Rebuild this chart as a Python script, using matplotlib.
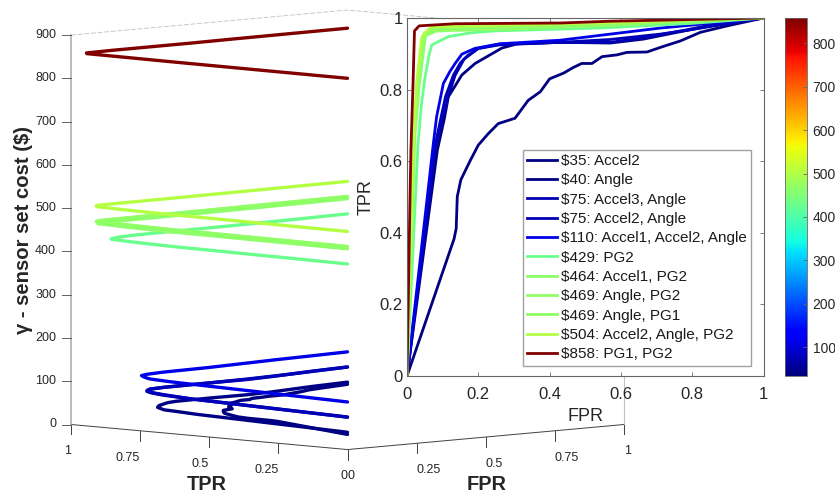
import numpy as np
import matplotlib
matplotlib.use("Agg")
import matplotlib.pyplot as plt
from matplotlib.cm import ScalarMappable
from matplotlib.colors import Normalize
from mpl_toolkits.mplot3d import proj3d

plt.rcParams['font.family'] = ['Liberation Sans', 'DejaVu Sans']

# ---------- data ----------
costs = [35, 40, 75, 75, 110, 429, 464, 469, 469, 504, 858]
labels = ["$35: Accel2", "$40: Angle", "$75: Accel3, Angle", "$75: Accel2, Angle",
          "$110: Accel1, Accel2, Angle", "$429: PG2", "$464: Accel1, PG2",
          "$469: Angle, PG2", "$469: Angle, PG1", "$504: Accel2, Angle, PG2",
          "$858: PG1, PG2"]

fpr_35 = [0, .132, .138, .141, .151, .177, .20, .228, .256, .303, .34, .374, .40, .439, .467, .49, .519, .547, .589, .617, .673, .711, .767, .823, .898, 1]
tpr_35 = [0, .383, .412, .501, .548, .601, .645, .677, .705, .72, .77, .794, .83, .846, .862, .873, .873, .892, .897, .904, .905, .918, .936, .96, .978, 1]
fpr_40 = [0, .085, .105, .116, .154, .191, .266, .31, .43, .57, .663, .758, .851, 1]
tpr_40 = [0, .63, .72, .78, .841, .873, .916, .928, .932, .93, .941, .96, .978, 1]
fpr_75a = [0, .08, .095, .108, .13, .15, .17, .20, .26, .43, .57, .711, .80, .90, 1]
tpr_75a = [0, .65, .72, .78, .84, .875, .895, .915, .925, .932, .94, .955, .968, .984, 1]
fpr_75b = [0, .08, .10, .115, .135, .16, .20, .26, .43, .57, .663, .758, .851, 1]
tpr_75b = [0, .64, .72, .78, .84, .885, .915, .927, .932, .932, .945, .962, .98, 1]
fpr_110 = [0, .074, .083, .102, .12, .135, .154, .19, .26, .43, .57, .711, .851, 1]
tpr_110 = [0, .65, .724, .817, .85, .873, .899, .915, .928, .938, .955, .972, .985, 1]
fpr_429 = [0, .031, .041, .05, .062, .07, .116, .182, .247, .542, .80, 1]
tpr_429 = [0, .651, .763, .83, .898, .925, .948, .959, .964, .972, .985, 1]
fpr_464 = [0, .02, .032, .05, .075, .116, .26, .54, 1]
tpr_464 = [0, .68, .82, .953, .966, .968, .971, .98, 1]
fpr_469a = [0, .02, .03, .048, .072, .116, .26, .54, 1]
tpr_469a = [0, .69, .83, .957, .97, .972, .974, .982, 1]
fpr_469b = [0, .022, .034, .052, .08, .116, .26, .54, 1]
tpr_469b = [0, .67, .81, .95, .963, .965, .968, .978, 1]
fpr_504 = [0, .02, .027, .041, .05, .069, .182, .43, 1]
tpr_504 = [0, .696, .819, .945, .959, .975, .978, .983, 1]
fpr_858 = [0, .008, .011, .017, .021, .034, .135, .43, .57, 1]
tpr_858 = [0, .473, .631, .82, .964, .978, .984, .986, .991, 1]

fprs = [fpr_35, fpr_40, fpr_75a, fpr_75b, fpr_110, fpr_429, fpr_464, fpr_469a, fpr_469b, fpr_504, fpr_858]
tprs = [tpr_35, tpr_40, tpr_75a, tpr_75b, tpr_110, tpr_429, tpr_464, tpr_469a, tpr_469b, tpr_504, tpr_858]

floor_ticks = [0, 0.25, 0.5, 0.75, 1]
floor_ticklabels = ["0", "0.25", "0.5", "0.75", "1"]
cost_ticks = [0, 100, 200, 300, 400, 500, 600, 700, 800, 900]
roc_ticks = [0, 0.2, 0.4, 0.6, 0.8, 1]
roc_ticklabels = ["0", "0.2", "0.4", "0.6", "0.8", "1"]
cbar_ticks = [100, 200, 300, 400, 500, 600, 700, 800]

# ---------- figure ----------
W, H = 835, 492
fig = plt.figure(figsize=(W / 100, H / 100), dpi=100)
norm = Normalize(vmin=35, vmax=858)
cmap = plt.get_cmap('jet')
TXT = '#262626'


def rect(x0, x1, y0, y1):
    """pixel box (y from the top) to figure fraction"""
    return [x0 / W, 1 - y1 / H, (x1 - x0) / W, (y1 - y0) / H]


# ---------- 3D panel ----------
side = 500
ax = fig.add_axes([0.1, 0.1, side / W, side / H], projection='3d', proj_type='ortho')
ax.view_init(elev=5.2, azim=-135)
ax.set_box_aspect((1, 1, 1))
ax.set_xlim(0, 1, view_margin=0)
ax.set_ylim(0, 1, view_margin=0)
ax.set_zlim(0, 900, view_margin=0)
ax.set_xticks([])
ax.set_yticks([])
ax.set_zticks([])
ax.set_axis_off()
ax.patch.set_alpha(0)


def to_px(f, t, z):
    ax.apply_aspect()
    xs, ys, _ = proj3d.proj_transform(f, t, z, ax.get_proj())
    return ax.transData.transform((xs, ys))


def label3d(f, t, z, s, **kw):
    """flat text at the place where a 3D point lands"""
    px = to_px(f, t, z)
    fig.text(px[0] / W, px[1] / H, s, va='center', fontsize=9, color=TXT, **kw)


# fit the cube to the drawn frame: left corner and right corner of the floor
a = to_px(0, 1, 0)
b = to_px(1, 0, 0)
side *= 553 / (b[0] - a[0])
ax.set_position([0.1, 0.1, side / W, side / H])
a = to_px(0, 1, 0)
dx = 71 - a[0]
dy = (H - 424.5) - a[1]
ax.set_position([0.1 + dx / W, 0.1 + dy / H, side / W, side / H])

for f, t, c in zip(fprs, tprs, costs):
    ax.plot(f, t, np.full(len(f), c), color=cmap(norm(c)), lw=2.4,
            solid_capstyle='round', solid_joinstyle='round')

# frame
ax.plot([0, 0, 1], [1, 0, 0], [0, 0, 0], color='#404040', lw=0.7)
ax.plot([0, 0], [1, 1], [0, 900], color='#a8a8a8', lw=1.1)
ax.plot([1, 1], [0, 0], [0, 900], color='#c4c4c4', lw=0.8)
ax.plot([0, 1, 1], [1, 1, 0], [900, 900, 900], color='#c0c0c0', lw=0.6, ls=(0, (6, 2)))

TICK_Z = -23
for v in floor_ticks:
    ax.plot([v, v], [0, 0], [0, TICK_Z], color='#404040', lw=0.7)
    ax.plot([0, 0], [v, v], [0, TICK_Z], color='#404040', lw=0.7)
for z in cost_ticks:
    ax.plot([0, -0.0165], [1, 1.0165], [z, z], color='#606060', lw=0.7)
    label3d(-0.027, 1.027, z, str(z), ha='right')

# tick labels below the floor axes
fpr_shift = [0.006, 0.022, 0.016, 0.022, 0.006]
tpr_shift = [0.006, 0.022, 0.016, 0.022, 0.006]
LABEL_Z = -62
for v, s, d in zip(floor_ticks, floor_ticklabels, fpr_shift):
    label3d(v + d, -d, LABEL_Z, s, ha='center')
for v, s, d in zip(floor_ticks, floor_ticklabels, tpr_shift):
    label3d(-d, v + d, LABEL_Z, s, ha='center')

fig.text(207 / W, 1 - 484 / H, "TPR", ha='center', va='center', fontsize=14.4,
         fontweight='bold', color=TXT)
fig.text(487 / W, 1 - 484 / H, "FPR", ha='center', va='center', fontsize=14.4,
         fontweight='bold', color=TXT)
fig.text(24 / W, 1 - 230 / H, "γ - sensor set cost ($)", ha='center', va='center',
         rotation=90, fontsize=14.6, fontweight='bold', color=TXT)

# ---------- ROC inset ----------
ins = fig.add_axes(rect(407, 763.5, 18, 376))
for f, t, c, lab in zip(fprs, tprs, costs, labels):
    ins.plot(f, t, color=cmap(norm(c)), lw=2.0, label=lab,
             solid_joinstyle='round', clip_on=True)
ins.set_xlim(0, 1)
ins.set_ylim(0, 1)
ins.set_xticks(roc_ticks, roc_ticklabels)
ins.set_yticks(roc_ticks, roc_ticklabels)
ins.tick_params(direction='in', length=2.6, width=0.6, top=True, right=True,
                labelsize=12, labelcolor=TXT, color='#666666', pad=3)
ins.tick_params(axis='x', pad=8)
for sp in ins.spines.values():
    sp.set_linewidth(0.8)
    sp.set_color('#666666')
ins.set_xlabel("FPR", fontsize=13, color=TXT, labelpad=4)
ins.set_ylabel("TPR", fontsize=13, color=TXT, labelpad=4)

leg = ins.legend(loc='lower left',
                 bbox_to_anchor=(523 / W, 1 - 365.5 / H), bbox_transform=fig.transFigure,
                 fontsize=11, handlelength=1.96, handletextpad=0.26, labelspacing=0.35,
                 borderpad=0.27, borderaxespad=0, fancybox=False, framealpha=1,
                 edgecolor='#a0a0a0')
leg.get_frame().set_linewidth(1.0)
for text in leg.get_texts():
    text.set_color('#1a1a1a')

# ---------- colour bar ----------
cax = fig.add_axes(rect(785, 807, 18, 375.5))
cb = fig.colorbar(ScalarMappable(norm=norm, cmap=cmap), cax=cax)
cb.set_ticks(cbar_ticks)
cb.ax.tick_params(direction='in', length=2.6, width=0.6, labelsize=10,
                  labelcolor=TXT, color='#666666', pad=4)
cb.outline.set_linewidth(0.6)
cb.outline.set_edgecolor('#666666')

fig.savefig("out.png", dpi=100)
